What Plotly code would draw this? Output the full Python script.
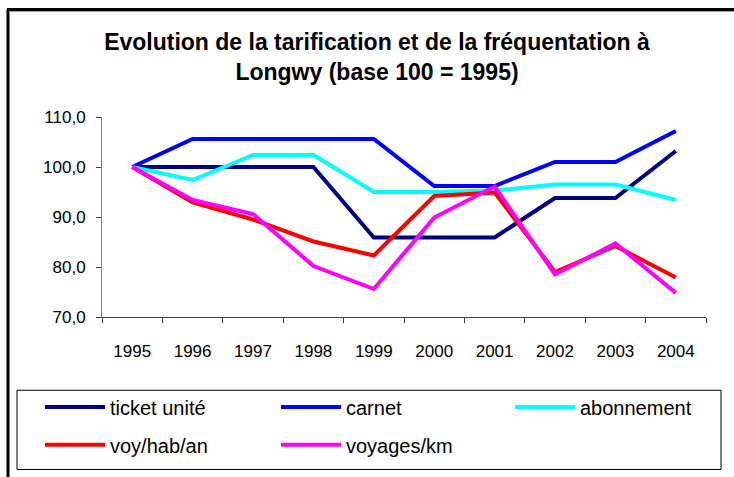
import plotly.graph_objects as go

years = ["1995", "1996", "1997", "1998", "1999", "2000", "2001", "2002", "2003", "2004"]
ticket_unite = [100, 100, 100, 100, 85.9, 85.9, 85.9, 93.8, 93.8, 103.2]
carnet = [100, 105.6, 105.6, 105.6, 105.6, 96.2, 96.2, 101.0, 101.0, 107.2]
abonnement = [100, 97.4, 102.4, 102.4, 95.0, 95.0, 95.3, 96.5, 96.5, 93.4]
voy_hab_an = [100, 92.9, 89.5, 85.1, 82.3, 94.2, 94.9, 79.0, 84.2, 77.9]
voyages_km = [100, 93.4, 90.6, 80.2, 75.6, 89.9, 96.1, 78.5, 84.7, 74.8]
y_ticks = [70, 80, 90, 100, 110]
y_tick_labels = ["70,0", "80,0", "90,0", "100,0", "110,0"]

series = [
    ("ticket unité", ticket_unite, "#000080"),
    ("carnet", carnet, "#0000FF"),
    ("abonnement", abonnement, "#00FFFF"),
    ("voy/hab/an", voy_hab_an, "#FF0000"),
    ("voyages/km", voyages_km, "#FF00FF"),
]
legend_names = ["legend", "legend2", "legend3", "legend4", "legend5"]

FONT = "Liberation Sans, Arial, sans-serif"

fig = go.Figure()
for (name, vals, color), leg in zip(series, legend_names):
    fig.add_trace(go.Scatter(
        x=years, y=vals, name=name, mode="lines",
        line=dict(color=color, width=4),
        legend=leg,
    ))

W, H = 734, 477
L, R, T, B = 102, 28, 117, 158
pw, ph = W - L - R, H - T - B

def px_x(x):
    return (x - L) / pw

def px_y(y):
    return (H - B - y) / ph

leg_common = dict(
    orientation="h", font=dict(family=FONT, size=20, color="#000000"),
    bgcolor="rgba(0,0,0,0)", borderwidth=0,
    itemwidth=60, xanchor="left", yanchor="middle",
)
leg_pos = [(40, 410), (276, 410), (510, 410), (40, 448), (276, 448)]
legends = {n: dict(x=px_x(x), y=px_y(y), **leg_common) for n, (x, y) in zip(legend_names, leg_pos)}

fig.update_layout(
    width=W, height=H,
    margin=dict(l=L, r=R, t=T, b=B),
    paper_bgcolor="white", plot_bgcolor="white",
    font=dict(family=FONT, size=17, color="#000000"),
    title=dict(
        text="<b>Evolution de la tarification et de la fréquentation à<br>Longwy (base 100 = 1995)</b>",
        x=377 / W, xanchor="center", y=1 - 50 / H, yanchor="top",
        font=dict(family=FONT, size=23, color="#000000"),
    ),
    xaxis=dict(
        type="category", showgrid=False, showline=True, linecolor="#404040", linewidth=1,
        ticks="outside", ticklen=5, tickcolor="#404040", tickson="boundaries",
        tickfont=dict(family=FONT, size=17), range=[-0.5, 9.5], fixedrange=True,
        ticklabelstandoff=19,
    ),
    yaxis=dict(
        range=[70, 110], tickvals=y_ticks, ticktext=y_tick_labels,
        showgrid=False, showline=True, linecolor="#808080", linewidth=1,
        ticks="outside", ticklen=5, tickcolor="#404040",
        tickfont=dict(family=FONT, size=17), zeroline=False,
        ticklabelstandoff=7,
    ),
    showlegend=True,
    shapes=[
        dict(type="rect", xref="paper", yref="paper",
             x0=px_x(17), x1=px_x(721), y0=px_y(473), y1=px_y(393),
             line=dict(color="#000000", width=1), fillcolor="rgba(0,0,0,0)", layer="below"),
        dict(type="line", xref="paper", yref="paper",
             x0=px_x(8), x1=px_x(8), y0=px_y(8), y1=px_y(490),
             line=dict(color="#000000", width=3)),
        dict(type="line", xref="paper", yref="paper",
             x0=px_x(7), x1=px_x(740), y0=px_y(8.5), y1=px_y(8.5),
             line=dict(color="#000000", width=3)),
        dict(type="line", xref="paper", yref="paper",
             x0=px_x(10), x1=px_x(740), y0=px_y(10.5), y1=px_y(10.5),
             line=dict(color="#A0A0A0", width=1)),
    ],
    **legends,
)

fig.write_html(
    "out.html",
    config={"displayModeBar": False, "staticPlot": True},
    post_script=(
        "document.body.style.margin='0';"
        "document.body.style.overflow='hidden';"
        "document.documentElement.style.overflow='hidden';"
    ),
)
